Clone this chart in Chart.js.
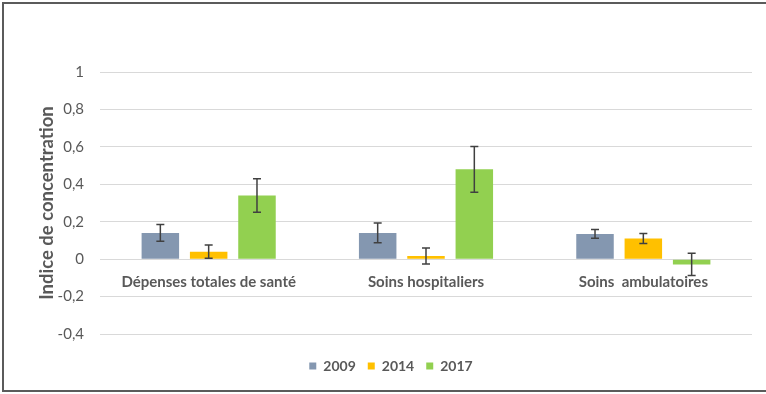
<!DOCTYPE html>
<html>
<head>
<meta charset="utf-8">
<script src="https://cdn.jsdelivr.net/npm/chart.js@4/dist/chart.umd.min.js"></script>
<style>
  html, body { margin: 0; padding: 0; background: #fff; }
  #wrap { position: relative; width: 766px; height: 394px; overflow: hidden; }
  #frame { position: absolute; left: 2px; top: 2px; width: 800px; height: 386px;
           border-left: 2px solid #5b5b5b; border-top: 2px solid #5b5b5b; border-bottom: 2px solid #5b5b5b;
           pointer-events: none; }
  canvas { position: absolute; left: 0; top: 0; }
</style>
</head>
<body>
<div id="wrap">
  <canvas id="c" width="766" height="394"></canvas>
  <div id="frame"></div>
</div>
<script>
const categories = ['Dépenses totales de santé', 'Soins hospitaliers', 'Soins  ambulatoires'];
const seriesNames = ['2009', '2014', '2017'];
const values2009 = [0.14, 0.14, 0.135];
const values2014 = [0.04, 0.017, 0.11];
const values2017 = [0.34, 0.48, -0.028];
const err2009 = [0.045, 0.053, 0.023];
const err2014 = [0.035, 0.043, 0.027];
const err2017 = [0.09, 0.122, 0.06];
const yTickValues = [-0.4, -0.2, 0, 0.2, 0.4, 0.6, 0.8, 1];
const yTickLabels = ['-0,4', '-0,2', '0', '0,2', '0,4', '0,6', '0,8', '1'];
const yTitle = 'Indice de concentration';

const colors = ['#8497B0', '#FFC000', '#92D050'];
const errors = [err2009, err2014, err2017];
const textColor = '#595959';

const errorBarPlugin = {
  id: 'errorBars',
  afterDatasetsDraw(chart) {
    const ctx = chart.ctx;
    const yScale = chart.scales.y;
    ctx.save();
    ctx.strokeStyle = '#404040';
    ctx.lineWidth = 1.5;
    chart.data.datasets.forEach((ds, di) => {
      const meta = chart.getDatasetMeta(di);
      meta.data.forEach((bar, i) => {
        const v = ds.data[i];
        const e = errors[di][i];
        const x = bar.x;
        const yTop = yScale.getPixelForValue(v + e);
        const yBot = yScale.getPixelForValue(v - e);
        const cap = 4;
        ctx.beginPath();
        ctx.moveTo(x, yTop); ctx.lineTo(x, yBot);
        ctx.moveTo(x - cap, yTop); ctx.lineTo(x + cap, yTop);
        ctx.moveTo(x - cap, yBot); ctx.lineTo(x + cap, yBot);
        ctx.stroke();
      });
    });
    ctx.restore();
  }
};

new Chart(document.getElementById('c'), {
  type: 'bar',
  data: {
    labels: categories,
    datasets: [
      { label: seriesNames[0], data: values2009, backgroundColor: colors[0] },
      { label: seriesNames[1], data: values2014, backgroundColor: colors[1] },
      { label: seriesNames[2], data: values2017, backgroundColor: colors[2] }
    ]
  },
  options: {
    responsive: false,
    devicePixelRatio: 1,
    animation: false,
    categoryPercentage: 0.667,
    barPercentage: 0.776,
    layout: { padding: { left: 30, right: 14, top: 72, bottom: 11 } },
    plugins: {
      tooltip: { enabled: false },
      legend: {
        position: 'bottom',
        title: { display: true, text: ' ', font: { size: 13, lineHeight: 1 }, padding: 0 },
        labels: {
          boxWidth: 7, boxHeight: 7, padding: 12, color: textColor,
          font: { family: 'Lato', size: 14, weight: 'bold' }
        }
      }
    },
    scales: {
      x: {
        position: { y: 0 },
        grid: { display: false, drawTicks: false },
        border: { display: false },
        ticks: { color: textColor, padding: 14, font: { family: 'Lato', size: 15, weight: 'bold' } }
      },
      y: {
        min: -0.4, max: 1,
        afterFit(scale) { scale.width = 70; },
        afterBuildTicks(scale) { scale.ticks = yTickValues.map(v => ({ value: v })); },
        grid: { color: '#d9d9d9', lineWidth: 1, drawTicks: false },
        border: { display: false },
        ticks: {
          stepSize: 0.2, padding: 16, color: textColor,
          font: { family: 'Lato', size: 15 },
          callback(value) {
            const i = yTickValues.findIndex(t => Math.abs(t - value) < 1e-6);
            return i >= 0 ? yTickLabels[i] : '';
          }
        },
        title: {
          display: true, text: yTitle, color: textColor,
          font: { family: 'Lato', size: 18.5, weight: 'bold' },
          padding: { top: 6, bottom: 0 }
        }
      }
    }
  },
  plugins: [errorBarPlugin]
});
</script>
</body>
</html>
